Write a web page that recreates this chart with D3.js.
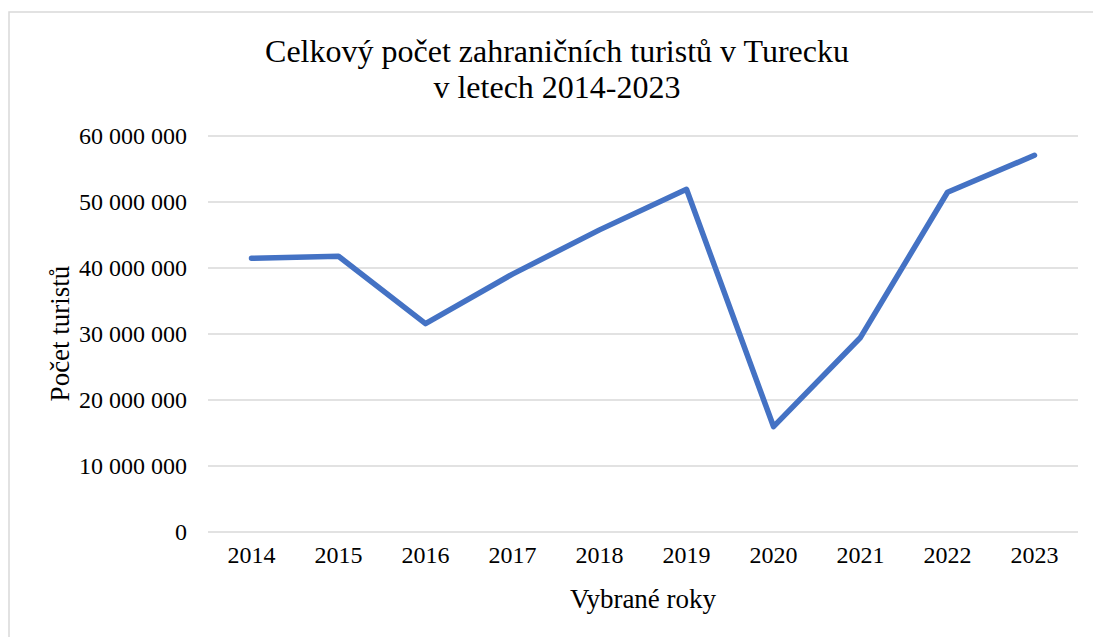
<!doctype html>
<html>
  <head>
    <meta charset="utf-8">
    <title>Zahraniční turisté v Turecku</title>
    <script src="https://cdn.jsdelivr.net/npm/d3@7"></script>
    <style>
      body { margin: 0; background: #fff; }
    </style>
  </head>
  <body>
    <script>
      // data
      const years = ['2014', '2015', '2016', '2017', '2018', '2019', '2020', '2021', '2022', '2023'];
      const tourists = [41400000, 41700000, 31500000, 39000000, 45700000, 51850000, 15900000, 29400000, 51400000, 57000000];
      const yTicks = [0, 10000000, 20000000, 30000000, 40000000, 50000000, 60000000];
      const titleLines = ['Celkový počet zahraničních turistů v Turecku', 'v letech 2014-2023'];

      const width = 1093;
      const height = 637;
      const margin = { top: 135.5, right: 15, bottom: 105.5, left: 208 };
      const font = '"Liberation Serif"';

      const svg = d3.select('body').append('svg')
          .attr('width', width)
          .attr('height', height)
          .style('font-family', font);

      // rámeček
      svg.append('rect')
          .attr('x', 9).attr('y', 12)
          .attr('width', 1200).attr('height', 800)
          .attr('fill', 'none')
          .attr('stroke', '#d9d9d9')
          .attr('stroke-width', 1.5);

      const plotW = width - margin.left - margin.right;
      const plotH = height - margin.top - margin.bottom;

      const x = d3.scaleBand().domain(years).range([0, plotW]);
      const y = d3.scaleLinear().domain([0, 60000000]).range([plotH, 0]);

      const g = svg.append('g')
          .attr('transform', `translate(${margin.left}, ${margin.top})`);

      // mřížka + popisky osy y
      const fmt = v => d3.format(',')(v).replace(/,/g, ' ');
      const yAxis = g.append('g')
          .call(d3.axisLeft(y).tickValues(yTicks).tickSize(-plotW).tickPadding(21).tickFormat(fmt));
      yAxis.attr('font-family', null).attr('font-size', null);
      yAxis.select('.domain').remove();
      yAxis.selectAll('line').attr('stroke', '#d9d9d9').attr('stroke-width', 1.5);
      yAxis.selectAll('text')
          .style('font-family', font)
          .style('font-size', '24px')
          .attr('fill', '#000')
          .attr('dy', '0.34em');

      // osa x
      const xAxis = g.append('g')
          .attr('transform', `translate(0, ${plotH})`)
          .call(d3.axisBottom(x).tickSize(0).tickPadding(14));
      xAxis.attr('font-family', null).attr('font-size', null);
      xAxis.select('.domain').remove();
      xAxis.selectAll('text')
          .style('font-family', font)
          .style('font-size', '24px')
          .attr('fill', '#000')
          .attr('dy', '0.71em');

      // čára
      const line = d3.line()
          .x((d, i) => x(years[i]) + x.bandwidth() / 2)
          .y(d => y(d));
      g.append('path')
          .datum(tourists)
          .attr('d', line)
          .attr('fill', 'none')
          .attr('stroke', '#4472c4')
          .attr('stroke-width', 5.5)
          .attr('stroke-linejoin', 'round')
          .attr('stroke-linecap', 'round');

      // nadpis
      svg.append('text')
          .attr('x', 557).attr('y', 62)
          .attr('text-anchor', 'middle')
          .style('font-family', font)
          .style('font-size', '32px')
          .selectAll('tspan')
          .data(titleLines)
          .enter().append('tspan')
            .attr('x', 557)
            .attr('dy', (d, i) => i === 0 ? 0 : 36)
            .text(d => d);

      // popisky os
      svg.append('text')
          .attr('x', margin.left + plotW / 2).attr('y', 608)
          .attr('text-anchor', 'middle')
          .style('font-family', font)
          .style('font-size', '27px')
          .text('Vybrané roky');

      svg.append('text')
          .attr('transform', `translate(69, ${margin.top + plotH / 2}) rotate(-90)`)
          .attr('text-anchor', 'middle')
          .style('font-family', font)
          .style('font-size', '27px')
          .text('Počet turistů');
    </script>
  </body>
</html>
